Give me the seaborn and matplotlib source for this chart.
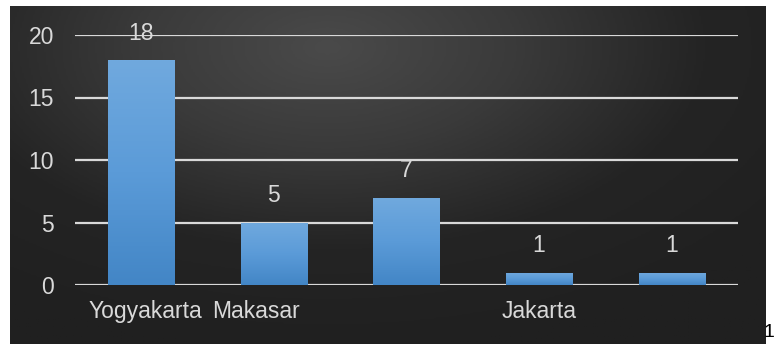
import numpy as np
import pandas as pd
import seaborn as sns
import matplotlib.pyplot as plt
import matplotlib.transforms as mtransforms
from matplotlib.colors import LinearSegmentedColormap

# chart data
categories = ["Yogyakarta", "Makasar", "Kota 3", "Jakarta", "Kota 5"]
tick_labels = ["Yogyakarta", "Makasar", "", "Jakarta", ""]
values = [18, 5, 7, 1, 1]

df = pd.DataFrame({"kota": categories, "jumlah": values})

sns.set_theme(style="dark")
plt.rcParams["font.family"] = ["Liberation Sans", "DejaVu Sans"]

W, H = 775, 344
fig = plt.figure(figsize=(W / 100, H / 100), dpi=100, facecolor="white")

# dark radial background panel
bg = fig.add_axes([10 / W, 0, (766 - 10) / W, (H - 6) / H])
bg.set_axis_off()
nx, ny = 400, 200
xx, yy = np.meshgrid(np.linspace(0, 1, nx), np.linspace(0, 1, ny))
d = np.sqrt(((xx - 0.42) / 0.75) ** 2 + ((yy - 0.12) / 0.9) ** 2)
d = np.clip(d, 0, 1)
bg_cmap = LinearSegmentedColormap.from_list("bg", ["#4a4a4a", "#3a3a3a", "#242424", "#202020"])
bg.imshow(d, cmap=bg_cmap, aspect="auto", extent=[0, 1, 1, 0], vmin=0, vmax=1)
bg.set_xlim(0, 1)
bg.set_ylim(1, 0)

ax = fig.add_axes([75 / W, 59 / H, (738 - 75) / W, (285 - 35) / H])
ax.patch.set_alpha(0)
sns.barplot(data=df, x="kota", y="jumlah", color="#5b9bd5", width=0.5,
            saturation=1, linewidth=0, ax=ax, zorder=3)

# vertical gradient on each bar
bar_cmap = LinearSegmentedColormap.from_list("bar", ["#4386c6", "#5b9bd8", "#70a9de"])
grad = np.linspace(0, 1, 100).reshape(-1, 1)
for p in ax.patches:
    x0, y0 = p.get_x(), p.get_y()
    w, h = p.get_width(), p.get_height()
    im = ax.imshow(grad, cmap=bar_cmap, aspect="auto", origin="lower",
                   extent=[x0, x0 + w, y0, y0 + h], zorder=4)
    im.set_clip_path(p)

ax.set_xlim(-0.5, len(categories) - 0.5)
ax.set_ylim(0, 20)
ax.set_yticks([0, 5, 10, 15, 20])
ax.yaxis.grid(True, color="#d9d9d9", linewidth=1.6)
ax.xaxis.grid(False)
ax.set_axisbelow(True)
for s in ax.spines.values():
    s.set_visible(False)

ax.set_xticks(range(len(categories)))
ax.set_xticklabels(tick_labels)
ax.set_xlabel("")
ax.set_ylabel("")
ax.tick_params(axis="x", length=0, pad=11, labelsize=16.5, labelcolor="#d9d9d9")
ax.tick_params(axis="y", length=0, pad=15, labelsize=16.5, labelcolor="#d9d9d9")

# overlapping labels sit closer together, as in the original
lbls = ax.get_xticklabels()
lbls[0].set_transform(lbls[0].get_transform() + mtransforms.ScaledTranslation(4 / 100, 0, fig.dpi_scale_trans))
lbls[1].set_transform(lbls[1].get_transform() + mtransforms.ScaledTranslation(-18 / 100, 0, fig.dpi_scale_trans))

ax.bar_label(ax.containers[0], labels=[str(v) for v in values], padding=11,
             fontsize=16.5, color="#d9d9d9", clip_on=False)

fig.text(0.9995, 0.01, "1", ha="right", va="bottom", fontsize=14, color="black")

fig.savefig("out.png", dpi=100, facecolor="white")
